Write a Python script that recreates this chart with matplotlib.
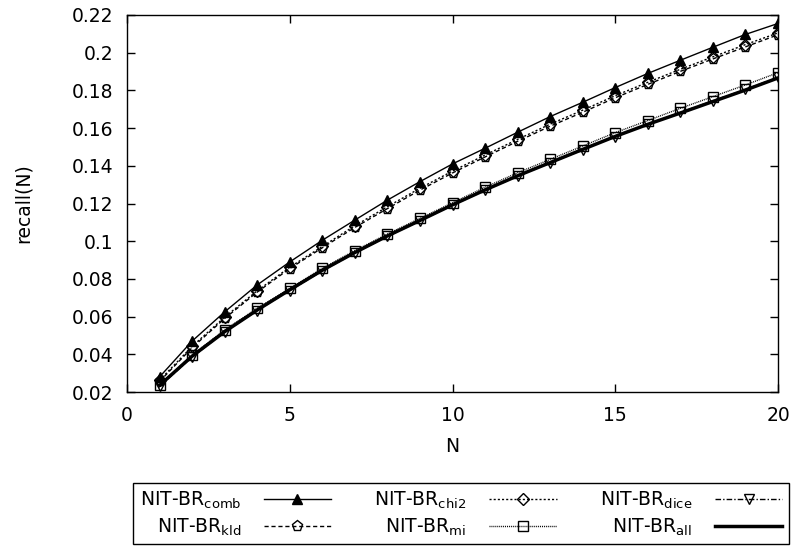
import matplotlib
matplotlib.use("Agg")
import matplotlib.pyplot as plt
from matplotlib.ticker import FuncFormatter

plt.rcParams['font.family'] = ['DejaVu Sans']
plt.rcParams['mathtext.default'] = 'regular'

N = list(range(1, 21))
comb = [0.028, 0.047, 0.0625, 0.0768, 0.089, 0.1005, 0.1112, 0.1218, 0.1316, 0.141,
        0.1493, 0.1578, 0.1661, 0.1737, 0.1815, 0.189, 0.196, 0.2029, 0.2097, 0.2155]
chi2 = [0.0262, 0.0442, 0.0597, 0.0737, 0.0862, 0.0972, 0.1082, 0.1183, 0.1281, 0.1372,
        0.1457, 0.154, 0.1621, 0.1695, 0.1772, 0.1843, 0.1912, 0.1978, 0.2043, 0.2105]
kld = [0.0256, 0.0435, 0.059, 0.073, 0.0855, 0.0965, 0.1073, 0.1173, 0.1271, 0.1362,
       0.1447, 0.153, 0.161, 0.1684, 0.1761, 0.1832, 0.1901, 0.1967, 0.2031, 0.2095]
mi = [0.0237, 0.0396, 0.0529, 0.0644, 0.075, 0.0856, 0.095, 0.1038, 0.1121, 0.1204,
      0.1286, 0.1363, 0.1434, 0.1505, 0.1576, 0.164, 0.1705, 0.1767, 0.1829, 0.1894]
dice = [0.023, 0.0385, 0.0518, 0.0632, 0.0738, 0.0842, 0.0937, 0.1025, 0.1108, 0.119,
        0.127, 0.1345, 0.1415, 0.1485, 0.1555, 0.162, 0.1683, 0.1745, 0.1805, 0.187]
allv = [0.0235, 0.039, 0.052, 0.0635, 0.0742, 0.0846, 0.094, 0.1028, 0.111, 0.1193,
        0.1272, 0.1347, 0.1417, 0.1487, 0.1556, 0.162, 0.168, 0.1741, 0.1802, 0.1866]

labels = ['NIT-BR$_{comb}$', 'NIT-BR$_{kld}$', 'NIT-BR$_{chi2}$',
          'NIT-BR$_{mi}$', 'NIT-BR$_{dice}$', 'NIT-BR$_{all}$']
xticks = [0, 5, 10, 15, 20]
yticks = [0.02, 0.04, 0.06, 0.08, 0.1, 0.12, 0.14, 0.16, 0.18, 0.2, 0.22]

FS = 13.5

fig = plt.figure(figsize=(7.95, 5.52), dpi=100)
ax = fig.add_axes([127/795, 1-392/552, (778-127)/795, (392-15)/552])

ms = 7
h_comb, = ax.plot(N, comb, color='black', lw=1.0, ls='-', marker='^', ms=ms,
                  mfc='black', mec='black')
h_kld, = ax.plot(N, kld, color='black', lw=1.0, ls=(0, (3, 2)), marker='p', ms=ms + 1,
                 mfc='none', mec='black', mew=1.0)
h_chi2, = ax.plot(N, chi2, color='black', lw=1.0, ls=(0, (1.5, 1.5)), marker='D', ms=ms - 1,
                  mfc='none', mec='black', mew=1.0)
h_mi, = ax.plot(N, mi, color='black', lw=1.0, ls=(0, (0.7, 0.7)), marker='s', ms=ms,
                mfc='none', mec='black', mew=1.0)
h_dice, = ax.plot(N, dice, color='black', lw=1.0, ls=(0, (4, 1.5, 1, 1.5)), marker='v', ms=ms,
                  mfc='none', mec='black', mew=1.0)
h_all, = ax.plot(N, allv, color='black', lw=2.5, ls='-')

ax.set_xlim(0, 20)
ax.set_ylim(0.02, 0.22)
ax.set_xticks(xticks)
ax.set_yticks(yticks)
ax.yaxis.set_major_formatter(FuncFormatter(lambda v, p: ('%g' % round(v, 4))))
ax.tick_params(direction='in', length=6, width=1, top=True, right=True,
               labelsize=FS, pad=10, colors='black')
for s in ax.spines.values():
    s.set_linewidth(1.0)
ax.set_xlabel('N', fontsize=FS, labelpad=9)
ax.set_ylabel('recall(N)', fontsize=FS, labelpad=28)

handles = [h_comb, h_kld, h_chi2, h_mi, h_dice, h_all]
leg = fig.legend(handles, labels, ncol=3, markerfirst=False, loc='center',
                 bbox_to_anchor=(133/795, 3/552, 656/795, 71/552), mode='expand',
                 fontsize=FS, handlelength=3.6, handletextpad=1.2, columnspacing=1.0,
                 labelspacing=0.3, borderpad=0.35, borderaxespad=0, frameon=True,
                 fancybox=False, edgecolor='black', framealpha=1)
leg.get_frame().set_linewidth(1.0)

fig.savefig('out.png', dpi=100)
